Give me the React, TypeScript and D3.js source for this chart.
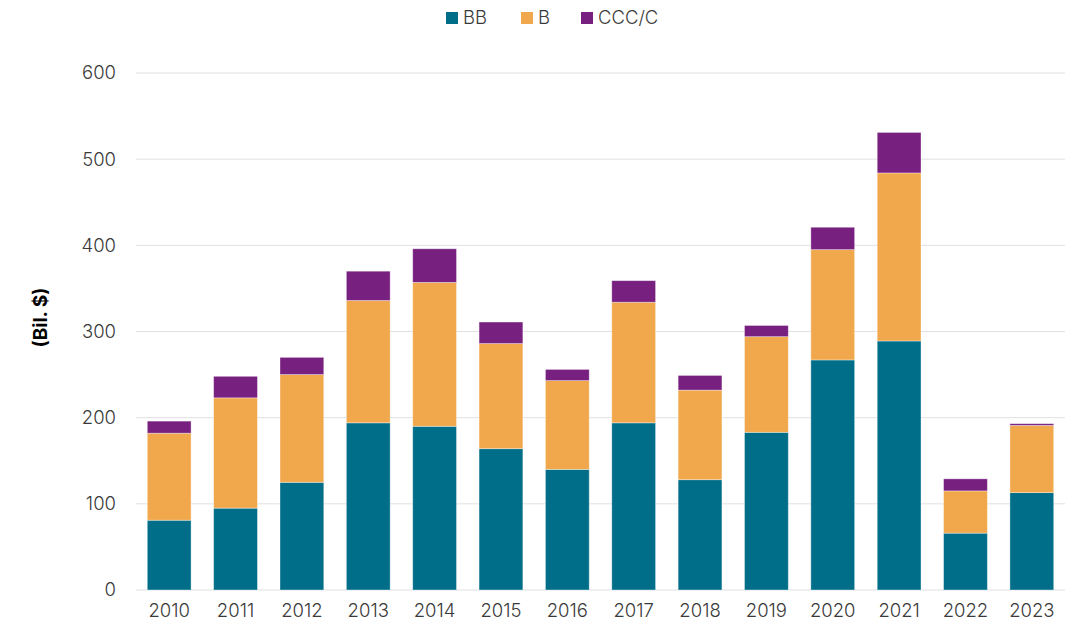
import * as d3 from "d3";
import { useRef, useEffect } from "react";

// categories and series (Bil. $)
const years = ["2010", "2011", "2012", "2013", "2014", "2015", "2016", "2017", "2018", "2019", "2020", "2021", "2022", "2023"];
const bb = [81, 95, 125, 194, 190, 164, 140, 194, 128, 183, 267, 289, 66, 113];
const b = [101, 128, 125, 142, 167, 122, 103, 140, 104, 111, 128, 195, 49, 78];
const ccc = [14, 25, 20, 34, 39, 25, 13, 25, 17, 13, 26, 47, 14, 2];
const yTicks = [0, 100, 200, 300, 400, 500, 600];

const seriesNames = ["BB", "B", "CCC/C"];
const colors = ["#006E89", "#F1A84C", "#782080"];

export default function App() {
    const svgRef = useRef<SVGSVGElement>(null);

    useEffect(() => {
        const svg = d3.select(svgRef.current);
        svg.selectAll("*").remove();

        const width = 1073;
        const height = 629;
        const margin = { top: 73, right: 8, bottom: 39, left: 136 };
        const innerW = width - margin.left - margin.right;
        const innerH = height - margin.top - margin.bottom;
        const font = "Inter, 'Noto Sans', sans-serif";
        const textColor = "#3a3a3a";

        // table for the stack
        const rows = years.map((y, i) => ({ year: y, BB: bb[i], B: b[i], "CCC/C": ccc[i] }));
        const stacked = d3.stack<any>().keys(seriesNames)(rows);

        const x = d3.scaleBand().domain(years).range([0, innerW]).paddingInner(0.34).paddingOuter(0.17);
        const y = d3.scaleLinear().domain([0, 600]).range([innerH, 0]);

        const g = svg.append("g").attr("transform", `translate(${margin.left},${margin.top})`);

        // grid lines
        g.selectAll("line.grid").data(yTicks).enter().append("line")
            .attr("x1", 0).attr("x2", innerW)
            .attr("y1", d => y(d)).attr("y2", d => y(d))
            .attr("stroke", "#e0e0e0").attr("stroke-width", 1);

        // y tick labels
        g.selectAll("text.ytick").data(yTicks).enter().append("text")
            .attr("x", -20).attr("y", d => y(d)).attr("dy", "0.35em")
            .attr("text-anchor", "end").attr("fill", textColor)
            .style("font-family", font).style("font-size", "18.5px").style("font-weight", "300")
            .text(d => d);

        // stacked bars
        g.selectAll("g.layer").data(stacked).enter().append("g")
            .attr("fill", (_d, i) => colors[i])
            .selectAll("rect").data(d => d).enter().append("rect")
            .attr("x", d => x(d.data.year)!)
            .attr("width", x.bandwidth())
            .attr("y", d => y(d[1]))
            .attr("height", d => y(d[0]) - y(d[1]))
            .attr("stroke", "#ffffff").attr("stroke-opacity", 0.45).attr("stroke-width", 0.8);

        // x tick labels
        g.selectAll("text.xtick").data(years).enter().append("text")
            .attr("x", d => x(d)! + x.bandwidth() / 2).attr("y", innerH + 27)
            .attr("text-anchor", "middle").attr("fill", textColor)
            .style("font-family", font).style("font-size", "18.5px").style("font-weight", "300")
            .text(d => d);

        // y axis title
        svg.append("text")
            .attr("transform", `translate(47,${margin.top + innerH / 2 - 14}) rotate(-90)`)
            .attr("text-anchor", "middle").attr("fill", "#000")
            .style("font-family", font).style("font-size", "19px").style("font-weight", "700")
            .text("(Bil. $)");

        // legend
        const legendX = [446, 521, 581];
        const legend = svg.append("g");
        seriesNames.forEach((name, i) => {
            legend.append("rect").attr("x", legendX[i]).attr("y", 12).attr("width", 12).attr("height", 12).attr("fill", colors[i]);
            legend.append("text").attr("x", legendX[i] + 17).attr("y", 18).attr("dy", "0.35em")
                .attr("fill", textColor).style("font-family", font).style("font-size", "18.5px").style("font-weight", "300")
                .text(name);
        });
    }, []);

    return (
        <svg ref={svgRef} width={1073} height={629} style={{ position: "absolute", left: 0, top: 0, background: "#fff" }} />
    );
}
